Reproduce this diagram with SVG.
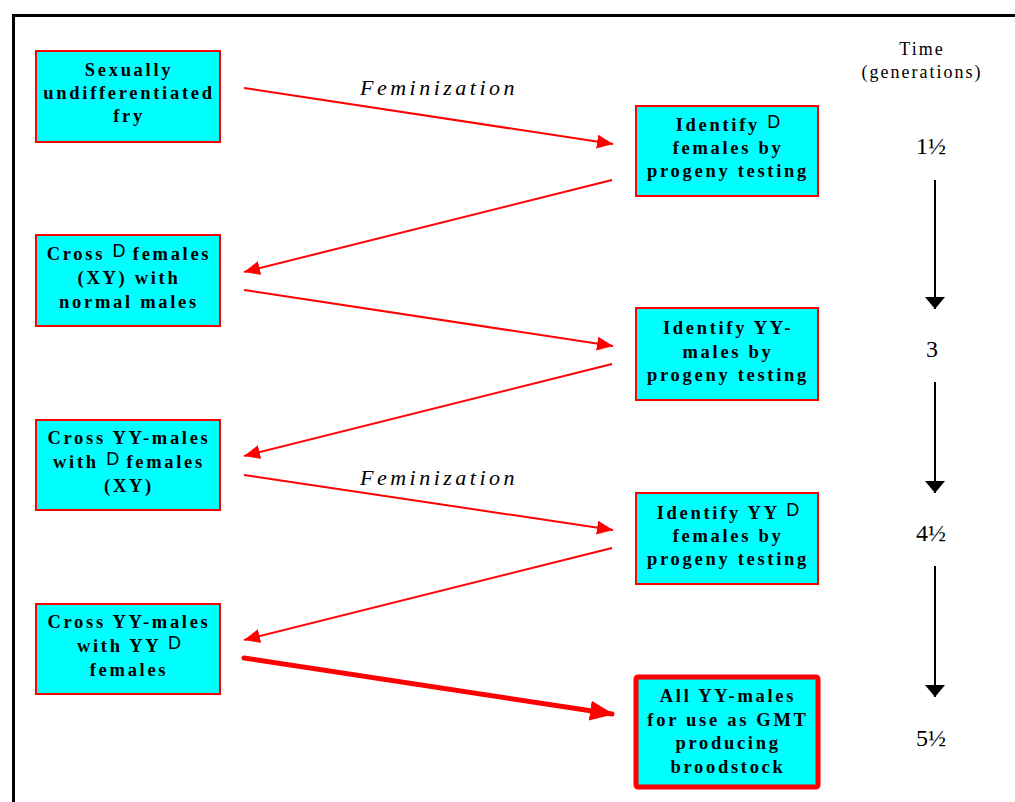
<svg xmlns="http://www.w3.org/2000/svg" width="1015" height="802" viewBox="0 0 1015 802">
<defs>
<marker id="ra" markerUnits="userSpaceOnUse" markerWidth="18" markerHeight="16" refX="16" refY="7" orient="auto"><path d="M0,0 L16,7 L0,14 Z" fill="#ff0000"/></marker>
<marker id="rb" markerUnits="userSpaceOnUse" markerWidth="26" markerHeight="22" refX="22" refY="10" orient="auto"><path d="M0,0 L24,10 L0,20 Z" fill="#ff0000"/></marker>
<marker id="ba" markerUnits="userSpaceOnUse" markerWidth="14" markerHeight="22" refX="12" refY="10" orient="auto"><path d="M0,0 L12,10 L0,20 Z" fill="#000"/></marker>
<style>
.box{fill:#00ffff;stroke:#ff0000;stroke-width:2}
.big{fill:#00ffff;stroke:#ff0000;stroke-width:5}
.t{font-family:"Liberation Serif",serif;font-weight:bold;font-size:18.5px;letter-spacing:2.7px;text-anchor:middle;fill:#000}
.sym{font-family:"Liberation Sans",sans-serif;font-weight:normal;font-size:18px;letter-spacing:0}
.fem{font-family:"Liberation Serif",serif;font-style:italic;font-size:22px;letter-spacing:3.5px;text-anchor:middle;fill:#000}
.time{font-family:"Liberation Serif",serif;font-size:18px;letter-spacing:2px;text-anchor:middle;fill:#000}
.gen{font-family:"Liberation Serif",serif;font-size:24px;text-anchor:middle;fill:#000}
.r{stroke:#ff0000;stroke-width:2;fill:none;marker-end:url(#ra)}
.k{stroke:#000;stroke-width:2;fill:none;marker-end:url(#ba)}
</style>
</defs>
<rect x="0" y="0" width="1015" height="802" fill="#fff"/>
<path d="M13.5,802 L13.5,15.5 L1015,15.5" fill="none" stroke="#000" stroke-width="3"/>

<g id="connectors">
<line class="r" x1="244" y1="88" x2="613" y2="144"/>
<line class="r" x1="612" y1="180" x2="244" y2="272"/>
<line class="r" x1="244" y1="290" x2="613" y2="346"/>
<line class="r" x1="612" y1="364" x2="244" y2="456"/>
<line class="r" x1="244" y1="475" x2="613" y2="530"/>
<line class="r" x1="612" y1="548" x2="244" y2="640"/>
<line x1="244" y1="658" x2="612" y2="714" stroke="#ff0000" stroke-width="5" stroke-linecap="round" marker-end="url(#rb)"/>
<line class="k" x1="935" y1="180" x2="935" y2="309"/>
<line class="k" x1="935" y1="382" x2="935" y2="493"/>
<line class="k" x1="935" y1="566" x2="935" y2="697"/>
</g>

<g id="labels">
<text class="fem" x="439" y="95">Feminization</text>
<text class="fem" x="439" y="485">Feminization</text>
<text class="time" x="922" y="55">Time</text>
<text class="time" x="922" y="78">(generations)</text>
<text class="gen" x="931" y="154">1½</text>
<text class="gen" x="932" y="357">3</text>
<text class="gen" x="931" y="541">4½</text>
<text class="gen" x="931" y="746">5½</text>
</g>

<g id="n1">
<rect class="box" x="36" y="51" width="184" height="91"/>
<text class="t" x="129" y="76">Sexually</text>
<text class="t" x="129" y="99">undifferentiated</text>
<text class="t" x="129" y="122">fry</text>
</g>

<g id="n2">
<rect class="box" x="36" y="235" width="184" height="91"/>
<text class="t" x="129" y="260">Cross <tspan class="sym" dy="-3">D</tspan><tspan dy="3"> females</tspan></text>
<text class="t" x="129" y="284">(XY) with</text>
<text class="t" x="129" y="308">normal males</text>
</g>

<g id="n3">
<rect class="box" x="36" y="420" width="184" height="90"/>
<text class="t" x="129" y="444">Cross YY-males</text>
<text class="t" x="129" y="468">with <tspan class="sym" dy="-3">D</tspan><tspan dy="3"> females</tspan></text>
<text class="t" x="129" y="492">(XY)</text>
</g>

<g id="n4">
<rect class="box" x="36" y="604" width="184" height="90"/>
<text class="t" x="129" y="628">Cross YY-males</text>
<text class="t" x="129" y="652">with YY <tspan class="sym" dy="-3">D</tspan></text>
<text class="t" x="129" y="676">females</text>
</g>

<g id="n5">
<rect class="box" x="636" y="106" width="182" height="90"/>
<text class="t" x="728" y="131">Identify <tspan class="sym" dy="-3">D</tspan></text>
<text class="t" x="728" y="154">females by</text>
<text class="t" x="728" y="177">progeny testing</text>
</g>

<g id="n6">
<rect class="box" x="636" y="308" width="182" height="92"/>
<text class="t" x="728" y="334">Identify YY-</text>
<text class="t" x="728" y="358">males by</text>
<text class="t" x="728" y="381">progeny testing</text>
</g>

<g id="n7">
<rect class="box" x="636" y="493" width="182" height="91"/>
<text class="t" x="728" y="519">Identify YY <tspan class="sym" dy="-3">D</tspan></text>
<text class="t" x="728" y="542">females by</text>
<text class="t" x="728" y="565">progeny testing</text>
</g>

<g id="n8">
<rect class="big" x="636" y="677" width="182" height="110" rx="2"/>
<text class="t" x="728" y="702">All YY-males</text>
<text class="t" x="728" y="726">for use as GMT</text>
<text class="t" x="728" y="749">producing</text>
<text class="t" x="728" y="773">broodstock</text>
</g>
</svg>
